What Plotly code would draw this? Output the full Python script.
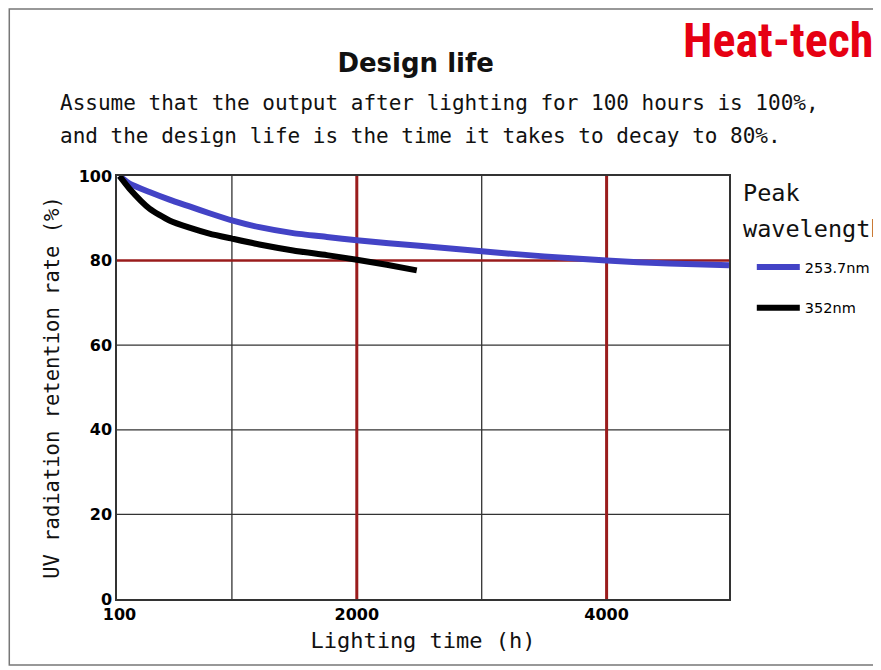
import plotly.graph_objects as go

# lighting time (h) and retention (%)
hours_2537 = [100, 180, 340, 500, 660, 820, 1000, 1220, 1490, 1760, 2000,
              2500, 3000, 3500, 4000, 4500, 4980]
rate_2537 = [100, 98.2, 96.2, 94.4, 92.8, 91.2, 89.5, 87.9, 86.5, 85.6, 84.8,
             83.5, 82.2, 81.0, 80.0, 79.3, 78.9]

hours_352 = [100, 180, 340, 500, 660, 820, 1000, 1220, 1490, 1760, 2000, 2240, 2480]
rate_352 = [100, 97.0, 92.3, 89.5, 87.8, 86.4, 85.2, 83.8, 82.4, 81.3, 80.2, 79.0, 77.7]

series_names = ["253.7nm", "352nm"]
x_ticks = [100, 2000, 4000]
y_ticks = [0, 20, 40, 60, 80, 100]
grid_hours = [1000, 3000]
grid_rates = [20, 40, 60]
limit_hours = [2000, 4000]
design_limit = 80

mono = "DejaVu Sans Mono, monospace"
sans = "DejaVu Sans, sans-serif"
dark_red = "#9a1c1c"
grid_col = "#333333"

fig = go.Figure()

fig.add_trace(go.Scatter(x=hours_2537, y=rate_2537, name=series_names[0],
                         mode="lines", line=dict(color="#4343c6", width=6, shape="spline", smoothing=0.6),
                         legendgroup="a"))
fig.add_trace(go.Scatter(x=hours_352, y=rate_352, name=series_names[1],
                         mode="lines", line=dict(color="#000000", width=6, shape="spline", smoothing=0.6),
                         legendgroup="b"))

# grid drawn as shapes so the red limit lines sit on top of the grey ones
for r in grid_rates:
    fig.add_hline(y=r, line=dict(color=grid_col, width=1.3), layer="below")
for h in grid_hours:
    fig.add_vline(x=h, line=dict(color=grid_col, width=1.3), layer="below")
for h in limit_hours:
    fig.add_vline(x=h, line=dict(color=dark_red, width=3), layer="below")
fig.add_hline(y=design_limit, line=dict(color=dark_red, width=2.5), layer="below")

# outer frame of the picture (left, top, bottom edges)
fig.add_shape(type="path", xref="paper", yref="paper",
              path="M 1.45 1.395 L -0.176 1.395 L -0.176 -0.156 L 1.45 -0.156",
              line=dict(color="#777777", width=1.5), layer="below")

fig.update_layout(
    width=873, height=662,
    margin=dict(l=109, r=152, t=168, b=71),
    plot_bgcolor="white", paper_bgcolor="white",
    title=dict(text="<b>Design life</b>", x=0.467, xanchor="center",
               y=0.917, yanchor="middle",
               font=dict(family=sans, size=26, color="#111111")),
    xaxis=dict(range=[80, 4980], tickvals=x_ticks, ticktext=[str(v) for v in x_ticks],
               showgrid=False, zeroline=False, showline=True, mirror=True,
               linecolor=grid_col, linewidth=1.5, ticks="",
               tickfont=dict(family=sans, size=16, color="black", weight="bold"),
               title=dict(text="Lighting time (h)", standoff=10,
                          font=dict(family=mono, size=22, color="#111111"))),
    yaxis=dict(range=[0, 100], tickvals=y_ticks, showgrid=False,
               zeroline=False, showline=True, mirror=True,
               linecolor=grid_col, linewidth=1.5, ticks="",
               tickfont=dict(family=sans, size=16, color="black", weight="bold"),
               title=dict(text="UV radiation retention rate (%)", standoff=13,
                          font=dict(family=mono, size=20.5, color="#111111"))),
    legend=dict(xref="container", yref="container", x=0.852, xanchor="left",
                y=0.633, yanchor="top",
                tracegroupgap=19, itemwidth=43, bgcolor="rgba(0,0,0,0)",
                font=dict(family=sans, size=14.5, color="black")),
    showlegend=True,
)

fig.add_annotation(text="Assume that the output after lighting for 100 hours is 100%,",
                   xref="paper", yref="paper", x=-0.096, y=1.1726,
                   xanchor="left", yanchor="middle", showarrow=False,
                   font=dict(family=mono, size=21, color="#111111"))
fig.add_annotation(text="and the design life is the time it takes to decay to 80%.",
                   xref="paper", yref="paper", x=-0.096, y=1.0946,
                   xanchor="left", yanchor="middle", showarrow=False,
                   font=dict(family=mono, size=21, color="#111111"))
fig.add_annotation(text="<b>Heat-tech</b>",
                   xref="paper", yref="paper", x=0.921, y=1.3215,
                   xanchor="left", yanchor="middle", showarrow=False,
                   font=dict(family="Liberation Sans Narrow, Roboto Condensed, sans-serif",
                             size=48, color="#e60012"))
fig.add_annotation(text="Peak", xref="paper", yref="paper", x=1.020, y=0.960,
                   xanchor="left", yanchor="middle", showarrow=False,
                   font=dict(family=mono, size=23.5, color="#111111"))
fig.add_annotation(text="wavelength", xref="paper", yref="paper", x=1.020, y=0.875,
                   xanchor="left", yanchor="middle", showarrow=False,
                   font=dict(family=mono, size=23.5, color="#111111"))

fig.write_html("out.html")
